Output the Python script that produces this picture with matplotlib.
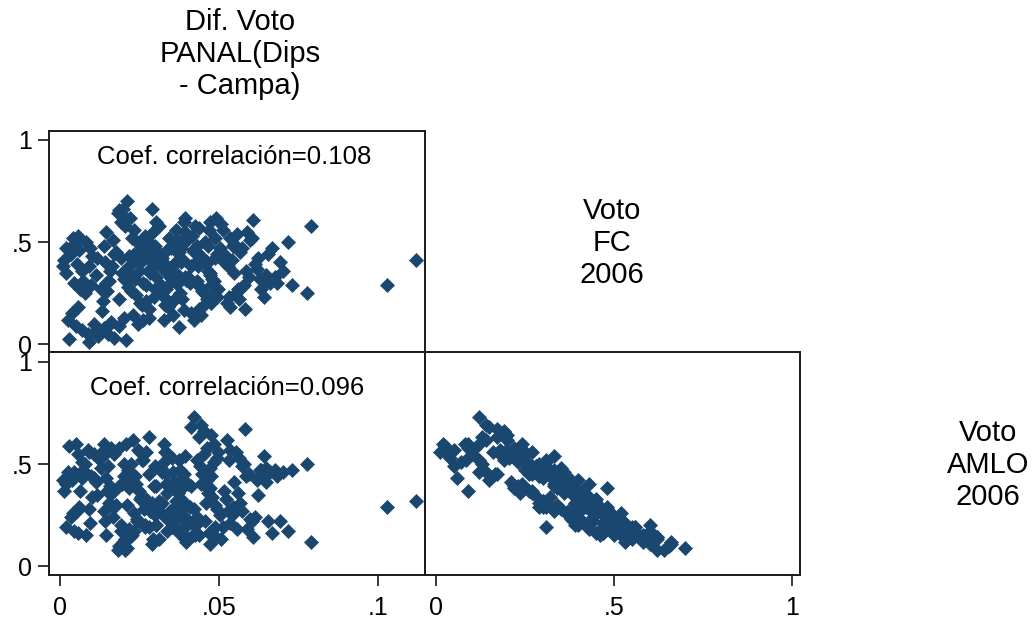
import matplotlib
matplotlib.use("Agg")
import matplotlib.pyplot as plt

plt.rcParams['font.family'] = ['Liberation Sans', 'DejaVu Sans']

# Datos por distrito: diferencia voto PANAL, voto FC 2006, voto AMLO 2006
dif_panal = [
    .0042, .0021, .0013, .0035, .0061, .0083, .0102, .0054, .0072, .0091, .0113, .0118,
    .0045, .0063, .0098, .0079,
    .0028, .0052, .0069, .0088, .0109, .0038, .0121, .0057,
    .0019, .0044, .0058, .0011, .0096, .0074,
    .0132, .0141, .0153, .0162, .0171, .0183, .0192, .0204, .0213, .0198,
    .0178, .0142, .0196, .0155, .0131, .0187, .0165, .0201, .0148, .0139, .0192, .0158, .0172, .0145,
    .0135, .0203, .0188, .0208, .0168, .0146,
    .0265, .0228, .0291, .0242, .0219, .0283, .0236, .0271, .0224, .0297, .0252, .0279, .0231, .0262, .0246,
    .0281, .0293, .0302, .0289, .0222,
    .0284, .0227, .0261, .0298, .0239, .0272, .0256, .0218, .0287, .0244, .0268, .0233, .0301, .0249, .0276,
    .0212, .0215, .0258, .0282, .0299, .0234, .0253, .0269, .0292, .0304,
    .0343, .0381, .0312, .0362, .0334, .0398, .0321, .0373, .0352, .0391,
    .0366, .0319, .0384, .0341, .0357, .0328, .0376, .0395, .0313, .0369,
    .0386, .0324, .0371, .0338, .0392, .0316, .0359, .0347, .0379, .0333,
    .0327, .0364, .0389, .0315, .0378, .0349, .0396, .0322, .0374, .0336, .0355, .0382, .0331, .0368, .0346,
    .0421, .0412, .0436, .0443, .0452, .0461, .0474, .0483, .0491, .0498,
    .0456, .0418, .0487, .0434, .0471, .0409, .0448, .0495, .0427, .0464,
    .0479, .0441, .0415, .0468, .0432, .0489, .0423, .0458, .0404, .0476,
    .0411, .0431, .0453, .0472, .0493, .0444, .0462, .0484, .0502, .0425,
    .0573, .0521, .0612, .0548, .0637, .0559, .0532, .0581, .0596, .0543, .0608, .0655, .0517, .0586, .0628,
    .0524, .0536, .0552, .0563, .0604, .0541, .0618, .0579, .0589, .0631,
    .0642, .0661, .0512, .0566, .0547, .0594, .0622, .0528, .0649, .0571,
    .0667, .0681, .0692, .0717, .0730, .0775, .0788, .1026, .1117, .0676, .0701, .0646,
    .0092, .0031, .0108, .0151, .0354, .0467, .0392, .0206, .0188,
    .0438, .0505, .0558, .0472, .0533, .0395,
]

voto_fc = [
    .52, .47, .41, .44, .46, .50, .43, .39, .36, .38, .34, .42,
    .30, .27, .29, .25,
    .12, .09, .07, .05, .10, .15, .04, .18,
    .35, .49, .53, .38, .47, .31,
    .16, .08, .05, .11, .03, .64, .60, .58, .70, .66,
    .45, .40, .35, .31, .27, .22, .38, .32, .26, .48, .42, .36, .44, .30,
    .21, .13, .09, .02, .51, .55,
    .48, .52, .45, .41, .38, .35, .32, .29, .26, .23, .20, .17, .14, .12, .10,
    .50, .55, .60, .66, .62,
    .37, .33, .30, .27, .24, .21, .40, .43, .47, .50, .53, .44, .39, .36, .42,
    .34, .28, .19, .13, .48, .56, .45, .50, .46, .33,
    .52, .47, .445, .395, .365, .315, .285, .235, .205, .165,
    .30, .26, .22, .18, .14, .12, .085, .55, .58, .51,
    .41, .37, .34, .46, .50, .43, .39, .35, .31, .27,
    .23, .56, .60, .29, .25, .47, .53, .42, .45, .38, .21, .40, .19, .45, .33,
    .12, .15, .17, .14, .19, .22, .20, .24, .62, .27,
    .50, .46, .42, .38, .34, .30, .26, .44, .40, .36,
    .32, .28, .53, .56, .48, .52, .45, .39, .33, .29,
    .38, .31, .25, .35, .23, .43, .40, .31, .47, .58,
    .47, .43, .39, .35, .31, .27, .23, .17, .51, .48, .61, .44, .40, .36, .32,
    .20, .18, .25, .22, .52, .41, .37, .29, .55, .27,
    .23, .30, .56, .45, .49, .33, .42, .38, .34, .28,
    .47, .30, .40, .50, .29, .25, .58, .29, .41, .33, .36, .31,
    .01, .025, .06, .09, .31, .48, .33, .62, .655,
    .57, .59, .54, .60, .52, .62,
]

voto_amlo = [
    .26, .19, .37, .24, .29, .15, .34, .27, .43, .28, .41, .35,
    .46, .37, .44, .50,
    .46, .60, .51, .57, .55, .42, .53, .55,
    .40, .17, .16, .42, .21, .47,
    .56, .60, .49, .58, .55, .08, .17, .13, .09, .12,
    .30, .22, .40, .31, .48, .39, .36, .44, .37, .27, .20, .39, .29, .43,
    .54, .50, .58, .60, .24, .15,
    .28, .15, .31, .22, .38, .28, .44, .33, .50, .39, .56, .45, .62, .52, .57,
    .19, .13, .20, .11, .14,
    .27, .42, .32, .49, .40, .56, .34, .18, .27, .23, .19, .26, .20, .37, .29,
    .30, .47, .52, .63, .25, .17, .33, .20, .28, .39,
    .22, .16, .32, .24, .40, .30, .46, .36, .53, .45,
    .32, .48, .38, .55, .46, .60, .52, .19, .13, .24,
    .32, .25, .41, .17, .24, .30, .22, .38, .29, .45,
    .51, .19, .15, .31, .47, .26, .12, .31, .16, .36, .41, .24, .56, .30, .27,
    .73, .68, .63, .69, .66, .58, .64, .60, .14, .56,
    .22, .15, .30, .23, .38, .29, .45, .28, .20, .36,
    .34, .49, .21, .16, .24, .19, .28, .31, .40, .44,
    .39, .52, .55, .48, .53, .40, .42, .51, .25, .15,
    .27, .33, .24, .41, .46, .36, .52, .67, .23, .29, .14, .22, .37, .44, .47,
    .62, .57, .56, .53, .22, .28, .42, .50, .18, .47,
    .54, .46, .19, .31, .26, .45, .35, .27, .41, .49,
    .16, .44, .22, .17, .47, .50, .12, .29, .32, .47, .46, .48,
    .56, .59, .43, .37, .19, .38, .54, .08, .10,
    .15, .13, .18, .11, .21, .13,
]

coef_top = "Coef. correlación=0.108"
coef_bottom = "Coef. correlación=0.096"
lbl_dif = "Dif. Voto\nPANAL(Dips\n- Campa)"
lbl_fc = "Voto\nFC\n2006"
lbl_amlo = "Voto\nAMLO\n2006"

mcolor = "#1a476f"
W, H = 1034, 622

fig = plt.figure(figsize=(W / 100, H / 100), dpi=100)


def px_axes(x0, y0, x1, y1):
    return fig.add_axes([x0 / W, 1 - y1 / H, (x1 - x0) / W, (y1 - y0) / H])


ax1 = px_axes(49, 131, 425, 352)
ax2 = px_axes(49, 352, 425, 575)
ax3 = px_axes(425, 352, 800, 575)

ax1.plot(dif_panal, voto_fc, 'D', ms=7, color=mcolor, mec=mcolor, mew=0.5)
ax2.plot(dif_panal, voto_amlo, 'D', ms=7, color=mcolor, mec=mcolor, mew=0.5)
ax3.plot(voto_fc, voto_amlo, 'D', ms=7, color=mcolor, mec=mcolor, mew=0.5)

ax1.set_xlim(-0.0033, 0.1146)
ax2.set_xlim(-0.0033, 0.1146)
ax1.set_ylim(-0.039, 1.044)
ax2.set_ylim(-0.044, 1.049)
ax3.set_xlim(-0.031, 1.022)
ax3.set_ylim(-0.044, 1.049)

for ax in (ax1, ax2, ax3):
    for s in ax.spines.values():
        s.set_linewidth(1.4)
        s.set_color("#1a1a1a")
    ax.tick_params(direction='out', length=8, width=1.1, labelsize=18, pad=4)

ax1.set_xticks([])
ax1.set_yticks([0, 0.5, 1])
ax1.set_yticklabels(["0", ".5", "1"])

ax2.set_yticks([0, 0.5, 1])
ax2.set_yticklabels(["0", ".5", "1"])
ax2.set_xticks([0, 0.05, 0.1])
ax2.set_xticklabels(["0", ".05", ".1"])
ax2.tick_params(axis='x', pad=7)

ax3.set_yticks([])
ax3.set_xticks([0, 0.5, 1])
ax3.set_xticklabels(["0", ".5", "1"])
ax3.tick_params(axis='x', pad=7)

fig.text(234 / W, 1 - 157 / H, coef_top, ha='center', va='center', fontsize=18.5)
fig.text(227 / W, 1 - 388 / H, coef_bottom, ha='center', va='center', fontsize=18.5)

fig.text(240 / W, 1 - 54 / H, lbl_dif, ha='center', va='center', fontsize=21)
fig.text(612 / W, 1 - 243 / H, lbl_fc, ha='center', va='center', fontsize=21)
fig.text(988 / W, 1 - 465 / H, lbl_amlo, ha='center', va='center', fontsize=21)

fig.savefig("out.png", dpi=100)
